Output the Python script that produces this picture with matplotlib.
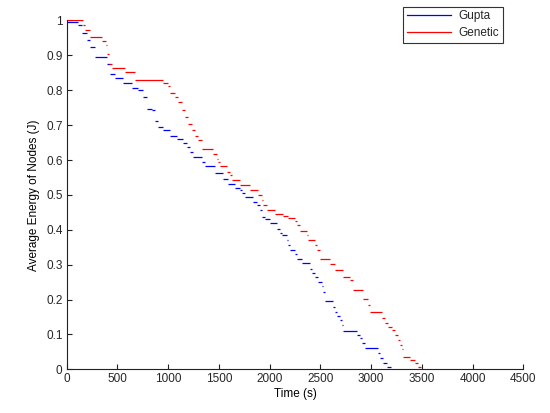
import matplotlib as mpl
mpl.use('Agg')
import matplotlib.pyplot as plt

# step breakpoints: energy holds from t until the next t
gupta_t = [0, 111, 148, 197, 230, 279, 394, 427, 476, 558, 640, 700, 755, 788,
           837, 870, 902, 952, 1018, 1084, 1149, 1182, 1215, 1244, 1333, 1363,
           1461, 1466, 1540, 1589, 1658, 1708, 1727, 1757, 1836, 1875, 1905,
           1924, 1954, 2003, 2072, 2102, 2121, 2170, 2180, 2200, 2249, 2269,
           2318, 2397, 2417, 2446, 2476, 2515, 2525, 2545, 2624, 2643, 2663,
           2693, 2712, 2722, 2860, 2890, 2909, 2939, 3067, 3087, 3116, 3156,
           3200]
gupta_e = [0.995, 0.988, 0.963, 0.943, 0.923, 0.894, 0.876, 0.848, 0.836, 0.82,
           0.807, 0.80, 0.78, 0.747, 0.742, 0.713, 0.696, 0.685, 0.668, 0.659,
           0.65, 0.636, 0.622, 0.608, 0.594, 0.584, 0.575, 0.562, 0.547, 0.532,
           0.521, 0.513, 0.504, 0.493, 0.479, 0.47, 0.456, 0.438, 0.432, 0.418,
           0.401, 0.392, 0.384, 0.37, 0.355, 0.343, 0.33, 0.315, 0.304, 0.287,
           0.276, 0.264, 0.249, 0.238, 0.221, 0.195, 0.178, 0.163, 0.152, 0.14,
           0.126, 0.109, 0.097, 0.089, 0.074, 0.06, 0.046, 0.032, 0.017, 0.006,
           0.0]

genetic_t = [0, 164, 180, 230, 345, 387, 400, 420, 443, 574, 673, 952, 1001,
             1018, 1067, 1100, 1133, 1165, 1198, 1231, 1264, 1297, 1330, 1444,
             1478, 1494, 1510, 1576, 1609, 1625, 1708, 1806, 1888, 1921, 1937,
             1970, 2052, 2134, 2183, 2249, 2266, 2298, 2364, 2380, 2446, 2463,
             2496, 2594, 2643, 2725, 2791, 2824, 2922, 2972, 2988, 3103, 3136,
             3169, 3202, 3234, 3267, 3284, 3300, 3317, 3382, 3431, 3464, 3490]
genetic_e = [1.0, 0.986, 0.974, 0.953, 0.941, 0.929, 0.905, 0.876, 0.864,
             0.852, 0.83, 0.82, 0.811, 0.792, 0.781, 0.766, 0.742, 0.723,
             0.702, 0.685, 0.67, 0.656, 0.632, 0.617, 0.603, 0.594, 0.583,
             0.567, 0.558, 0.544, 0.529, 0.513, 0.499, 0.484, 0.47, 0.458,
             0.444, 0.44, 0.435, 0.425, 0.413, 0.396, 0.386, 0.372, 0.355,
             0.341, 0.317, 0.302, 0.284, 0.265, 0.255, 0.226, 0.202, 0.183,
             0.164, 0.148, 0.133, 0.121, 0.112, 0.097, 0.083, 0.069, 0.059,
             0.036, 0.028, 0.017, 0.007, 0.0]

x_ticks = [0, 500, 1000, 1500, 2000, 2500, 3000, 3500, 4000, 4500]
y_ticks = [0, 0.1, 0.2, 0.3, 0.4, 0.5, 0.6, 0.7, 0.8, 0.9, 1]
y_labels = ['0', '0.1', '0.2', '0.3', '0.4', '0.5', '0.6', '0.7', '0.8', '0.9', '1']

plt.rcParams['font.family'] = ['Liberation Sans', 'DejaVu Sans']
plt.rcParams['font.size'] = 8.5
plt.rcParams['text.color'] = '#262626'

fig = plt.figure(figsize=(5.5, 4.13), dpi=100)
ax = fig.add_axes([0.1213, 0.1058, 0.8302, 0.8446])

# horizontal pieces only, like the dashed look of the original export
ax.hlines(gupta_e[:-1], gupta_t[:-1], gupta_t[1:], colors='#0000ff', linewidth=0.9)
ax.hlines(genetic_e[:-1], genetic_t[:-1], genetic_t[1:], colors='#ff0000', linewidth=0.9)
ax.plot([], [], color='#0000ff', linewidth=0.9, label='Gupta')
ax.plot([], [], color='#ff0000', linewidth=0.9, label='Genetic')

ax.set_xlim(0, 4500)
ax.set_ylim(0, 1)
ax.set_xticks(x_ticks)
ax.set_xticklabels([str(v) for v in x_ticks])
ax.set_yticks(y_ticks)
ax.set_yticklabels(y_labels)
ax.tick_params(direction='in', length=3.5, width=0.8, colors='#222222',
               labelcolor='#262626', pad=3)
ax.spines['top'].set_visible(False)
ax.spines['right'].set_visible(False)
for s in ['left', 'bottom']:
    ax.spines[s].set_color('#222222')
    ax.spines[s].set_linewidth(0.8)

ax.set_xlabel('Time (s)', labelpad=2)
ax.set_ylabel('Average Energy of Nodes (J)', labelpad=4)

leg = fig.legend(loc='upper right', bbox_to_anchor=(0.914, 0.984), borderaxespad=0,
                 fancybox=False, framealpha=1, edgecolor='#333333',
                 handlelength=3.8, handletextpad=0.6, labelspacing=0.45,
                 borderpad=0.3)
leg.get_frame().set_linewidth(0.8)

fig.savefig('out.png', dpi=100)
